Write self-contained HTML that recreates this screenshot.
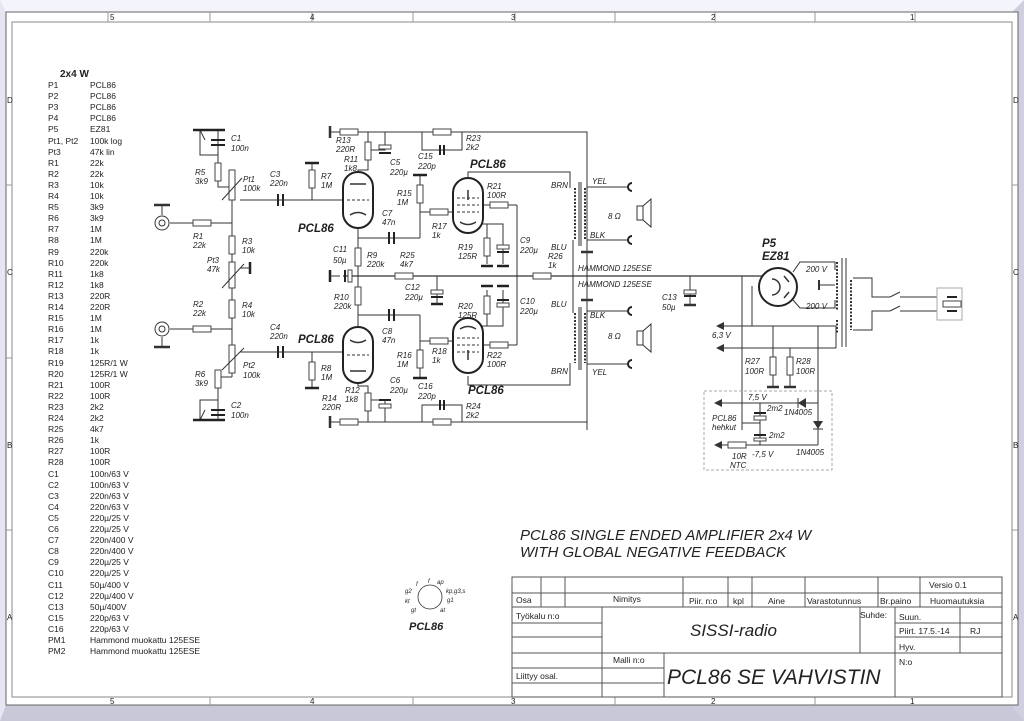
<!DOCTYPE html>
<html><head><meta charset="utf-8"><style>
html,body{margin:0;padding:0;background:#fff}
svg{display:block}
text{font-family:"Liberation Sans",sans-serif;fill:#222}
.l{font-size:8px;font-style:italic;fill:#333}
.p{font-size:8.5px;fill:#111}
.w{stroke:#333;stroke-width:1;fill:none}
.g{stroke:#999;stroke-width:1;fill:none}
.r{stroke:#444;stroke-width:1;fill:#fff}
.t{stroke:#222;stroke-width:2;fill:#fff}
</style></head><body>
<svg width="1024" height="721" viewBox="0 0 1024 721" xmlns="http://www.w3.org/2000/svg">
<rect x="0" y="0" width="1024" height="721" fill="#e6e6f2"/>
<polygon points="0,0 1024,0 1012,12 6,12" fill="#f4f4fc"/>
<polygon points="0,721 1024,721 1012,705 6,705" fill="#c8c8d8"/>
<polygon points="1024,0 1024,721 1012,705 1012,12" fill="#cfcfe0"/>
<rect x="6" y="12" width="1012" height="693" fill="#fff" stroke="#666"/>
<rect x="12" y="22" width="1000" height="675" fill="none" stroke="#888"/>
<g class="g">
<line x1="108" y1="12" x2="108" y2="22"/><line x1="210" y1="12" x2="210" y2="22"/><line x1="312" y1="12" x2="312" y2="22"/><line x1="413" y1="12" x2="413" y2="22"/><line x1="515" y1="12" x2="515" y2="22"/><line x1="615" y1="12" x2="615" y2="22"/><line x1="715" y1="12" x2="715" y2="22"/><line x1="815" y1="12" x2="815" y2="22"/><line x1="915" y1="12" x2="915" y2="22"/>
<line x1="210" y1="697" x2="210" y2="705"/><line x1="413" y1="697" x2="413" y2="705"/><line x1="615" y1="697" x2="615" y2="705"/><line x1="815" y1="697" x2="815" y2="705"/>
<line x1="6" y1="185" x2="12" y2="185"/><line x1="6" y1="358" x2="12" y2="358"/><line x1="6" y1="530" x2="12" y2="530"/>
<line x1="1012" y1="185" x2="1018" y2="185"/><line x1="1012" y1="530" x2="1018" y2="530"/></g>
<g style="font-size:8px" fill="#333">
<text x="110" y="20">5</text><text x="310" y="20">4</text><text x="511" y="20">3</text><text x="711" y="20">2</text><text x="910" y="20">1</text>
<text x="110" y="704">5</text><text x="310" y="704">4</text><text x="511" y="704">3</text><text x="711" y="704">2</text><text x="910" y="704">1</text>
<text x="7" y="103">D</text><text x="7" y="275">C</text><text x="7" y="448">B</text><text x="7" y="620">A</text>
<text x="1013" y="103">D</text><text x="1013" y="275">C</text><text x="1013" y="448">B</text><text x="1013" y="620">A</text></g>

<text x="60" y="77" style="font-size:10px;font-weight:bold">2x4 W</text>
<g class="p">
<text x="48" y="88">P1</text><text x="90" y="88">PCL86</text>
<text x="48" y="99">P2</text><text x="90" y="99">PCL86</text>
<text x="48" y="110">P3</text><text x="90" y="110">PCL86</text>
<text x="48" y="121">P4</text><text x="90" y="121">PCL86</text>
<text x="48" y="132">P5</text><text x="90" y="132">EZ81</text>
<text x="48" y="144">Pt1, Pt2</text><text x="90" y="144">100k log</text>
<text x="48" y="155">Pt3</text><text x="90" y="155">47k lin</text>
<text x="48" y="166">R1</text><text x="90" y="166">22k</text>
<text x="48" y="177">R2</text><text x="90" y="177">22k</text>
<text x="48" y="188">R3</text><text x="90" y="188">10k</text>
<text x="48" y="199">R4</text><text x="90" y="199">10k</text>
<text x="48" y="210">R5</text><text x="90" y="210">3k9</text>
<text x="48" y="221">R6</text><text x="90" y="221">3k9</text>
<text x="48" y="232">R7</text><text x="90" y="232">1M</text>
<text x="48" y="243">R8</text><text x="90" y="243">1M</text>
<text x="48" y="255">R9</text><text x="90" y="255">220k</text>
<text x="48" y="266">R10</text><text x="90" y="266">220k</text>
<text x="48" y="277">R11</text><text x="90" y="277">1k8</text>
<text x="48" y="288">R12</text><text x="90" y="288">1k8</text>
<text x="48" y="299">R13</text><text x="90" y="299">220R</text>
<text x="48" y="310">R14</text><text x="90" y="310">220R</text>
<text x="48" y="321">R15</text><text x="90" y="321">1M</text>
<text x="48" y="332">R16</text><text x="90" y="332">1M</text>
<text x="48" y="343">R17</text><text x="90" y="343">1k</text>
<text x="48" y="354">R18</text><text x="90" y="354">1k</text>
<text x="48" y="366">R19</text><text x="90" y="366">125R/1 W</text>
<text x="48" y="377">R20</text><text x="90" y="377">125R/1 W</text>
<text x="48" y="388">R21</text><text x="90" y="388">100R</text>
<text x="48" y="399">R22</text><text x="90" y="399">100R</text>
<text x="48" y="410">R23</text><text x="90" y="410">2k2</text>
<text x="48" y="421">R24</text><text x="90" y="421">2k2</text>
<text x="48" y="432">R25</text><text x="90" y="432">4k7</text>
<text x="48" y="443">R26</text><text x="90" y="443">1k</text>
<text x="48" y="454">R27</text><text x="90" y="454">100R</text>
<text x="48" y="465">R28</text><text x="90" y="465">100R</text>
<text x="48" y="477">C1</text><text x="90" y="477">100n/63 V</text>
<text x="48" y="488">C2</text><text x="90" y="488">100n/63 V</text>
<text x="48" y="499">C3</text><text x="90" y="499">220n/63 V</text>
<text x="48" y="510">C4</text><text x="90" y="510">220n/63 V</text>
<text x="48" y="521">C5</text><text x="90" y="521">220µ/25 V</text>
<text x="48" y="532">C6</text><text x="90" y="532">220µ/25 V</text>
<text x="48" y="543">C7</text><text x="90" y="543">220n/400 V</text>
<text x="48" y="554">C8</text><text x="90" y="554">220n/400 V</text>
<text x="48" y="565">C9</text><text x="90" y="565">220µ/25 V</text>
<text x="48" y="576">C10</text><text x="90" y="576">220µ/25 V</text>
<text x="48" y="588">C11</text><text x="90" y="588">50µ/400 V</text>
<text x="48" y="599">C12</text><text x="90" y="599">220µ/400 V</text>
<text x="48" y="610">C13</text><text x="90" y="610">50µ/400V</text>
<text x="48" y="621">C15</text><text x="90" y="621">220p/63 V</text>
<text x="48" y="632">C16</text><text x="90" y="632">220p/63 V</text>
<text x="48" y="643">PM1</text><text x="90" y="643">Hammond muokattu 125ESE</text>
<text x="48" y="654">PM2</text><text x="90" y="654">Hammond muokattu 125ESE</text>
</g>

<g class="w">
<polyline points="330,132 587,132 587,430"/>
<polyline points="330,422 587,422"/>
<line x1="330" y1="126" x2="330" y2="138" style="stroke-width:2.5"/>
<line x1="330" y1="416" x2="330" y2="428" style="stroke-width:2.5"/>
<line x1="343" y1="276" x2="763" y2="276" style="stroke-width:1.3"/>
<polyline points="218,130 218,187 232,187"/>
<line x1="232" y1="187" x2="232" y2="377"/>
<polyline points="200,130 200,155 218,155"/>
<line x1="200" y1="130" x2="205" y2="140"/>
<polyline points="200,420 200,400 218,400 218,420"/>
<line x1="200" y1="420" x2="205" y2="410"/>
<polyline points="218,377 218,400"/>
<line x1="218" y1="377" x2="232" y2="377"/>
<line x1="170" y1="223" x2="232" y2="223"/>
<line x1="170" y1="329" x2="232" y2="329"/>
<line x1="162" y1="205" x2="162" y2="215"/><line x1="154" y1="205" x2="170" y2="205" style="stroke-width:2.5"/>
<line x1="162" y1="337" x2="162" y2="347"/><line x1="154" y1="347" x2="170" y2="347" style="stroke-width:2.5"/>
<line x1="240" y1="200" x2="345" y2="200"/>
<line x1="240" y1="352" x2="345" y2="352"/>
<line x1="312" y1="163" x2="312" y2="200"/>
<line x1="312" y1="352" x2="312" y2="388"/>
<polyline points="358,172 358,170 368,170 368,132"/>
<polyline points="368,150 385,150 385,132"/>
<polyline points="358,383 358,386 368,386 368,422"/>
<polyline points="368,400 385,400 385,422"/>
<line x1="358" y1="228" x2="358" y2="327"/>
<line x1="358" y1="238" x2="420" y2="238"/><line x1="420" y1="238" x2="420" y2="175"/>
<line x1="358" y1="315" x2="420" y2="315"/><line x1="420" y1="315" x2="420" y2="378"/>
<line x1="420" y1="212" x2="455" y2="212"/>
<line x1="420" y1="341" x2="455" y2="341"/>
<polyline points="422,132 422,150 462,150 462,132"/>
<polyline points="422,422 422,405 462,405 462,422"/>
<polyline points="468,178 468,172 570,172 570,188"/>
<polyline points="468,376 468,385 570,385 570,363"/>
<line x1="483" y1="205" x2="517" y2="205"/><line x1="517" y1="205" x2="517" y2="345"/>
<line x1="483" y1="345" x2="517" y2="345"/>
<polyline points="475,224 503,224 503,264"/><line x1="487" y1="224" x2="487" y2="264"/>
<polyline points="475,326 503,326 503,290"/><line x1="487" y1="326" x2="487" y2="290"/>
<line x1="573" y1="240" x2="573" y2="276"/>
<line x1="573" y1="276" x2="573" y2="313"/>
<line x1="579" y1="182" x2="579" y2="246"/><line x1="581" y1="182" x2="581" y2="246"/>
<line x1="579" y1="307" x2="579" y2="370"/><line x1="581" y1="307" x2="581" y2="370"/>
<polyline points="587,187 627,187"/><polyline points="587,240 627,240"/>
<polyline points="587,311 627,311"/><polyline points="587,364 627,364"/>
<line x1="587" y1="240" x2="587" y2="250"/><line x1="581" y1="252" x2="593" y2="252" style="stroke-width:2.5"/>
<line x1="587" y1="311" x2="587" y2="301"/><line x1="581" y1="300" x2="593" y2="300" style="stroke-width:2.5"/>
<line x1="690" y1="276" x2="690" y2="305"/><line x1="684" y1="305" x2="696" y2="305" style="stroke-width:2.5"/>
<polyline points="742,276 742,430"/>
<polyline points="752,286 752,326"/>
<line x1="720" y1="326" x2="836" y2="326"/>
<line x1="720" y1="348" x2="836" y2="348"/>
<polyline points="836,326 836,348"/>
<line x1="773" y1="326" x2="773" y2="387"/><line x1="790" y1="348" x2="790" y2="387"/>
<line x1="767" y1="387" x2="779" y2="387" style="stroke-width:2.5"/><line x1="784" y1="387" x2="796" y2="387" style="stroke-width:2.5"/>
<line x1="818" y1="326" x2="818" y2="445"/>
<polyline points="793,272 800,262 835,262 835,270"/><polyline points="793,300 800,308 835,308 835,300"/>
<line x1="820" y1="285" x2="835" y2="285"/><line x1="819" y1="280" x2="819" y2="290" style="stroke-width:2"/>
<line x1="842" y1="258" x2="842" y2="347"/><line x1="846" y1="258" x2="846" y2="347"/>
<polyline points="853,278 872,278 872,297 890,297"/><polyline points="853,330 872,330 872,311 890,311"/>
<line x1="890" y1="297" x2="900" y2="292"/><line x1="890" y1="311" x2="900" y2="306"/>
<line x1="900" y1="297" x2="937" y2="297"/><line x1="900" y1="311" x2="937" y2="311"/>
<rect x="704" y="391" width="128" height="79" stroke-dasharray="3,2" stroke="#aaa"/>
<line x1="720" y1="403" x2="818" y2="403"/>
<line x1="760" y1="403" x2="760" y2="445"/>
<line x1="720" y1="445" x2="818" y2="445"/>
<line x1="742" y1="423" x2="760" y2="423"/>
</g>
<g fill="#333"><polygon points="716,326 724,322 724,330"/><polygon points="716,348 724,344 724,352"/><polygon points="714,403 722,399 722,407"/><polygon points="714,445 722,441 722,449"/>
<polygon points="806,398 806,408 798,403"/><polygon points="813,421 823,421 818,429"/></g>
<g class="w"><line x1="798" y1="398" x2="798" y2="408"/><line x1="813" y1="429" x2="823" y2="429"/></g>

<g stroke="#222" stroke-width="2.5">
<line x1="193" y1="130" x2="225" y2="130"/><line x1="193" y1="420" x2="225" y2="420"/>
<line x1="305" y1="163" x2="319" y2="163"/><line x1="305" y1="388" x2="319" y2="388"/>
<line x1="413" y1="175" x2="427" y2="175"/><line x1="413" y1="378" x2="427" y2="378"/>
<line x1="481" y1="266" x2="493" y2="266"/><line x1="497" y1="266" x2="509" y2="266"/>
<line x1="481" y1="286" x2="493" y2="286"/><line x1="497" y1="286" x2="509" y2="286"/>
<line x1="330" y1="270" x2="330" y2="282"/><line x1="431" y1="304" x2="443" y2="304"/>
<line x1="250" y1="262" x2="250" y2="274"/>
</g>
<g class="w"><line x1="240" y1="268" x2="250" y2="268"/><line x1="330" y1="276" x2="340" y2="276"/><line x1="437" y1="276" x2="437" y2="304"/></g>

<g stroke="#222" stroke-width="2">
<line x1="211" y1="140" x2="225" y2="140"/><line x1="211" y1="145" x2="225" y2="145"/>
<line x1="211" y1="410" x2="225" y2="410"/><line x1="211" y1="415" x2="225" y2="415"/>
<line x1="278" y1="194" x2="278" y2="206"/><line x1="283" y1="194" x2="283" y2="206"/>
<line x1="278" y1="346" x2="278" y2="358"/><line x1="283" y1="346" x2="283" y2="358"/>
<line x1="389" y1="232" x2="389" y2="244"/><line x1="394" y1="232" x2="394" y2="244"/>
<line x1="389" y1="309" x2="389" y2="321"/><line x1="394" y1="309" x2="394" y2="321"/>
<line x1="440" y1="145" x2="440" y2="155"/><line x1="444" y1="145" x2="444" y2="155"/>
<line x1="440" y1="400" x2="440" y2="410"/><line x1="444" y1="400" x2="444" y2="410"/>
<line x1="345" y1="270" x2="345" y2="282"/>
<line x1="431" y1="297" x2="443" y2="297"/>
<line x1="497" y1="252" x2="509" y2="252"/><line x1="497" y1="300" x2="509" y2="300"/>
<line x1="379" y1="153" x2="391" y2="153"/><line x1="379" y1="400" x2="391" y2="400"/>
<line x1="684" y1="296" x2="696" y2="296"/>
<line x1="754" y1="413" x2="766" y2="413"/><line x1="754" y1="435" x2="766" y2="435"/>
</g>
<g class="r">
<rect x="348" y="270" width="4" height="12"/><rect x="431" y="290" width="12" height="4"/>
<rect x="497" y="245" width="12" height="4"/><rect x="497" y="303" width="12" height="4"/>
<rect x="379" y="145" width="12" height="4"/><rect x="379" y="404" width="12" height="4"/>
<rect x="684" y="290" width="12" height="4"/><rect x="754" y="416" width="12" height="4"/><rect x="754" y="438" width="12" height="3"/>
<rect x="193" y="220" width="18" height="6"/><rect x="193" y="326" width="18" height="6"/>
<rect x="215" y="163" width="6" height="18"/><rect x="215" y="370" width="6" height="18"/>
<rect x="229" y="236" width="6" height="18"/><rect x="229" y="300" width="6" height="18"/>
<rect x="229" y="170" width="6" height="30"/><rect x="229" y="262" width="6" height="26"/><rect x="229" y="345" width="6" height="28"/>
<rect x="309" y="170" width="6" height="18"/><rect x="309" y="362" width="6" height="18"/>
<rect x="340" y="129" width="18" height="6"/><rect x="340" y="419" width="18" height="6"/>
<rect x="365" y="142" width="6" height="18"/><rect x="365" y="393" width="6" height="18"/>
<rect x="355" y="248" width="6" height="18"/><rect x="355" y="287" width="6" height="18"/>
<rect x="395" y="273" width="18" height="6"/><rect x="533" y="273" width="18" height="6"/>
<rect x="417" y="185" width="6" height="18"/><rect x="417" y="350" width="6" height="18"/>
<rect x="430" y="209" width="18" height="6"/><rect x="430" y="338" width="18" height="6"/>
<rect x="433" y="129" width="18" height="6"/><rect x="433" y="419" width="18" height="6"/>
<rect x="490" y="202" width="18" height="6"/><rect x="490" y="342" width="18" height="6"/>
<rect x="484" y="238" width="6" height="18"/><rect x="484" y="296" width="6" height="18"/>
<rect x="770" y="357" width="6" height="18"/><rect x="787" y="357" width="6" height="18"/>
<rect x="728" y="442" width="18" height="6"/><rect x="943" y="301" width="18" height="6"/>
</g>
<g class="w">
<line x1="222" y1="200" x2="242" y2="178"/><line x1="222" y1="288" x2="244" y2="264"/><line x1="222" y1="370" x2="244" y2="348"/></g>

<g class="w"><circle cx="162" cy="223" r="7"/><circle cx="162" cy="223" r="3"/><circle cx="162" cy="329" r="7"/><circle cx="162" cy="329" r="3"/></g>

<g class="t">
<rect x="343" y="172" width="30" height="56" rx="15"/><rect x="343" y="327" width="30" height="56" rx="15"/>
<rect x="453" y="178" width="30" height="55" rx="15"/><rect x="453" y="318" width="30" height="55" rx="15"/>
<circle cx="778" cy="287" r="19"/>
</g>
<g class="w" style="stroke-width:1.5">
<line x1="350" y1="184" x2="366" y2="184"/><path d="M350,215 Q358,210 366,215"/>
<line x1="350" y1="371" x2="366" y2="371"/><path d="M350,340 Q358,345 366,340"/>
<line x1="468" y1="190" x2="468" y2="200" /><path d="M460,222 Q468,227 476,222"/>
<line x1="468" y1="360" x2="468" y2="350"/><path d="M460,329 Q468,324 476,329"/>
<line x1="784" y1="276" x2="789" y2="282"/><line x1="784" y1="298" x2="789" y2="292"/>
<path d="M772,279 A8,8 0 0 1 772,295"/>
</g>
<g class="w" stroke-dasharray="3,2"><line x1="347" y1="200" x2="369" y2="200"/><line x1="347" y1="355" x2="369" y2="355"/>
<line x1="457" y1="205" x2="479" y2="205"/><line x1="457" y1="212" x2="479" y2="212"/><line x1="457" y1="198" x2="479" y2="198"/>
<line x1="457" y1="345" x2="479" y2="345"/><line x1="457" y1="338" x2="479" y2="338"/><line x1="457" y1="352" x2="479" y2="352"/></g>

<g class="w" stroke-dasharray="2,1.5" style="stroke-width:2">
<line x1="575" y1="188" x2="575" y2="240"/><line x1="585" y1="188" x2="585" y2="240"/>
<line x1="575" y1="313" x2="575" y2="363"/><line x1="585" y1="313" x2="585" y2="363"/>
<line x1="837" y1="262" x2="837" y2="310"/><line x1="837" y1="320" x2="837" y2="334"/><line x1="851" y1="280" x2="851" y2="330"/>
</g>
<g class="w">
<rect x="637" y="206" width="6" height="14"/><polygon points="643,206 651,199 651,227 643,220"/>
<rect x="637" y="331" width="6" height="14"/><polygon points="643,331 651,324 651,352 643,345"/>
<rect x="937" y="288" width="25" height="32" stroke="#aaa"/>
</g>
<g stroke="#222" stroke-width="2" fill="none">
<path d="M632,183 A4,4 0 0 0 632,191"/><path d="M632,236 A4,4 0 0 0 632,244"/>
<path d="M632,307 A4,4 0 0 0 632,315"/><path d="M632,360 A4,4 0 0 0 632,368"/>
<line x1="947" y1="297" x2="957" y2="297"/><line x1="947" y1="311" x2="957" y2="311"/>
</g>

<g class="l">
<text x="231" y="141">C1</text><text x="231" y="151">100n</text>
<text x="231" y="408">C2</text><text x="231" y="418">100n</text>
<text x="195" y="175">R5</text><text x="195" y="184">3k9</text>
<text x="195" y="377">R6</text><text x="195" y="386">3k9</text>
<text x="243" y="182">Pt1</text><text x="243" y="191">100k</text>
<text x="243" y="368">Pt2</text><text x="243" y="378">100k</text>
<text x="207" y="263">Pt3</text><text x="207" y="272">47k</text>
<text x="242" y="244">R3</text><text x="242" y="253">10k</text>
<text x="242" y="308">R4</text><text x="242" y="317">10k</text>
<text x="193" y="239">R1</text><text x="193" y="248">22k</text>
<text x="193" y="307">R2</text><text x="193" y="316">22k</text>
<text x="270" y="177">C3</text><text x="270" y="186">220n</text>
<text x="270" y="330">C4</text><text x="270" y="339">220n</text>
<text x="321" y="179">R7</text><text x="321" y="188">1M</text>
<text x="321" y="371">R8</text><text x="321" y="380">1M</text>
<text x="336" y="143">R13</text><text x="336" y="152">220R</text>
<text x="322" y="401">R14</text><text x="322" y="410">220R</text>
<text x="344" y="162">R11</text><text x="344" y="171">1k8</text>
<text x="345" y="393">R12</text><text x="345" y="402">1k8</text>
<text x="390" y="165">C5</text><text x="390" y="175">220µ</text>
<text x="390" y="383">C6</text><text x="390" y="393">220µ</text>
<text x="418" y="159">C15</text><text x="418" y="169">220p</text>
<text x="418" y="389">C16</text><text x="418" y="399">220p</text>
<text x="466" y="141">R23</text><text x="466" y="150">2k2</text>
<text x="466" y="409">R24</text><text x="466" y="418">2k2</text>
<text x="397" y="196">R15</text><text x="397" y="205">1M</text>
<text x="397" y="358">R16</text><text x="397" y="367">1M</text>
<text x="382" y="216">C7</text><text x="382" y="225">47n</text>
<text x="382" y="334">C8</text><text x="382" y="343">47n</text>
<text x="432" y="229">R17</text><text x="432" y="238">1k</text>
<text x="432" y="354">R18</text><text x="432" y="363">1k</text>
<text x="487" y="189">R21</text><text x="487" y="198">100R</text>
<text x="487" y="358">R22</text><text x="487" y="367">100R</text>
<text x="458" y="250">R19</text><text x="458" y="259">125R</text>
<text x="458" y="309">R20</text><text x="458" y="318">125R</text>
<text x="520" y="243">C9</text><text x="520" y="253">220µ</text>
<text x="520" y="304">C10</text><text x="520" y="314">220µ</text>
<text x="333" y="252">C11</text><text x="333" y="263">50µ</text>
<text x="367" y="258">R9</text><text x="367" y="267">220k</text>
<text x="334" y="300">R10</text><text x="334" y="309">220k</text>
<text x="400" y="258">R25</text><text x="400" y="267">4k7</text>
<text x="405" y="290">C12</text><text x="405" y="300">220µ</text>
<text x="548" y="259">R26</text><text x="548" y="268">1k</text>
<text x="551" y="188">BRN</text><text x="551" y="250">BLU</text>
<text x="551" y="307">BLU</text><text x="551" y="374">BRN</text>
<text x="592" y="184">YEL</text><text x="590" y="238">BLK</text>
<text x="590" y="318">BLK</text><text x="592" y="375">YEL</text>
<text x="608" y="219">8 Ω</text><text x="608" y="339">8 Ω</text>
<text x="578" y="271">HAMMOND 125ESE</text><text x="578" y="287">HAMMOND 125ESE</text>
<text x="662" y="300">C13</text><text x="662" y="310">50µ</text>
<text x="806" y="272">200 V</text><text x="806" y="309">200 V</text>
<text x="712" y="338">6,3 V</text>
<text x="745" y="364">R27</text><text x="745" y="374">100R</text>
<text x="796" y="364">R28</text><text x="796" y="374">100R</text>
<text x="748" y="400">7,5 V</text><text x="767" y="411">2m2</text><text x="784" y="415">1N4005</text>
<text x="712" y="421">PCL86</text><text x="712" y="430">hehkut</text>
<text x="769" y="438">2m2</text><text x="752" y="457">-7,5 V</text><text x="796" y="455">1N4005</text>
<text x="732" y="459">10R</text><text x="730" y="468">NTC</text>
</g>
<g style="font-size:11.5px;font-weight:bold;font-style:italic" fill="#222">
<text x="298" y="232">PCL86</text><text x="298" y="343">PCL86</text>
<text x="470" y="168">PCL86</text><text x="468" y="394">PCL86</text>
<text x="762" y="247">P5</text><text x="762" y="260">EZ81</text>
</g>

<g class="w" style="stroke-width:0.8"><circle cx="430" cy="597" r="12"/></g>
<g style="font-size:6px;font-style:italic" fill="#333">
<text x="428" y="583">f</text><text x="416" y="586">f</text><text x="437" y="584">ap</text><text x="405" y="593">g2</text><text x="446" y="593">kp,g3,s</text>
<text x="405" y="603">kt</text><text x="447" y="602">g1</text><text x="411" y="612">gt</text><text x="440" y="612">at</text></g>
<text x="409" y="630" style="font-size:11px;font-weight:bold;font-style:italic">PCL86</text>

<g style="font-size:15px;font-style:italic" fill="#222"><text x="520" y="540">PCL86 SINGLE ENDED AMPLIFIER 2x4 W</text><text x="520" y="557">WITH GLOBAL NEGATIVE FEEDBACK</text></g>

<g stroke="#555" stroke-width="1" fill="none">
<rect x="512" y="577" width="490" height="120"/>
<line x1="512" y1="593" x2="1002" y2="593"/><line x1="512" y1="607" x2="1002" y2="607"/>
<line x1="541" y1="577" x2="541" y2="607"/><line x1="565" y1="577" x2="565" y2="607"/>
<line x1="683" y1="577" x2="683" y2="607"/><line x1="728" y1="577" x2="728" y2="607"/>
<line x1="752" y1="577" x2="752" y2="607"/><line x1="805" y1="577" x2="805" y2="607"/>
<line x1="878" y1="577" x2="878" y2="607"/><line x1="920" y1="577" x2="920" y2="607"/>
<line x1="512" y1="623" x2="602" y2="623"/><line x1="512" y1="637" x2="602" y2="637"/><line x1="512" y1="653" x2="895" y2="653"/>
<line x1="512" y1="668" x2="664" y2="668"/><line x1="512" y1="683" x2="664" y2="683"/>
<line x1="602" y1="607" x2="602" y2="697"/><line x1="664" y1="653" x2="664" y2="697"/>
<line x1="860" y1="607" x2="860" y2="653"/><line x1="895" y1="607" x2="895" y2="697"/>
<line x1="895" y1="623" x2="1002" y2="623"/><line x1="895" y1="637" x2="1002" y2="637"/><line x1="895" y1="653" x2="1002" y2="653"/>
<line x1="960" y1="607" x2="960" y2="653"/>
</g>
<g style="font-size:8.5px" fill="#222">
<text x="929" y="588">Versio 0.1</text>
<text x="516" y="603">Osa</text><text x="613" y="602">Nimitys</text><text x="689" y="604">Piir. n:o</text><text x="733" y="604">kpl</text><text x="768" y="604">Aine</text><text x="807" y="604">Varastotunnus</text><text x="880" y="604">Br.paino</text><text x="930" y="604">Huomautuksia</text>
<text x="516" y="619">Työkalu n:o</text><text x="860" y="618">Suhde:</text><text x="899" y="620">Suun.</text>
<text x="899" y="634">Piirt. 17.5.-14</text><text x="970" y="634">RJ</text><text x="899" y="650">Hyv.</text><text x="899" y="665">N:o</text>
<text x="613" y="663">Malli n:o</text><text x="516" y="679">Liittyy osal.</text>
</g>
<text x="690" y="636" style="font-size:17px;font-style:italic" fill="#222">SISSI-radio</text>
<text x="667" y="684" style="font-size:21px;font-style:italic" fill="#222">PCL86 SE VAHVISTIN</text>
</svg>
</body></html>
